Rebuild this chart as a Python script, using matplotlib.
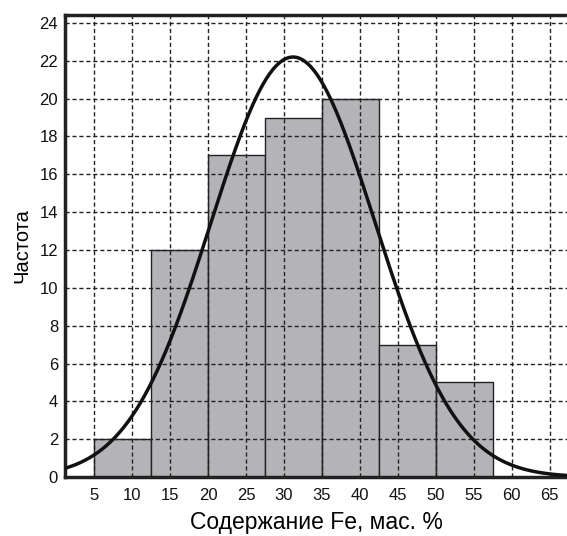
import numpy as np
import matplotlib
matplotlib.use("Agg")
import matplotlib.pyplot as plt

plt.rcParams['font.family'] = ['Liberation Sans', 'DejaVu Sans']

bin_edges = [5, 12.5, 20, 27.5, 35, 42.5, 50, 57.5]
counts = [2, 12, 17, 19, 20, 7, 5]
curve_mean = 31.2
curve_sd = 10.8
curve_peak = 22.2
xticks = [5, 10, 15, 20, 25, 30, 35, 40, 45, 50, 55, 60, 65]
yticks = [0, 2, 4, 6, 8, 10, 12, 14, 16, 18, 20, 22, 24]

fig = plt.figure(figsize=(5.67, 5.36), dpi=100)
ax = fig.add_axes([0.1146, 0.110, 0.8854, 0.862])

ax.set_axisbelow(False)
widths = np.diff(bin_edges)
ax.bar(bin_edges[:-1], counts, width=widths, align='edge',
       color='#b4b4b8', edgecolor='#222222', linewidth=1.0, zorder=1)

ax.grid(True, linestyle=(0, (3, 2)), color='#222222', linewidth=1.0, zorder=2)

xs = np.linspace(0, 70, 500)
ys = curve_peak * np.exp(-(xs - curve_mean) ** 2 / (2 * curve_sd ** 2))
ax.plot(xs, ys, color='#111111', linewidth=2.5, zorder=3)

ax.set_xlim(1.15, 67.3)
ax.set_ylim(0, 24.42)
ax.set_xticks(xticks)
ax.set_yticks(yticks)
ax.tick_params(length=0, labelsize=12, colors='#111111')
ax.tick_params(axis='y', pad=5)
ax.tick_params(axis='x', pad=8)
for s in ['left', 'bottom', 'top']:
    ax.spines[s].set_linewidth(2.5)
    ax.spines[s].set_color('#222222')
ax.spines['right'].set_visible(False)

ax.set_xlabel('Содержание Fe, мас. %', fontsize=16.5, labelpad=6)
ax.set_ylabel('Частота', fontsize=14.5, labelpad=6)

fig.savefig('out.png', dpi=100)
